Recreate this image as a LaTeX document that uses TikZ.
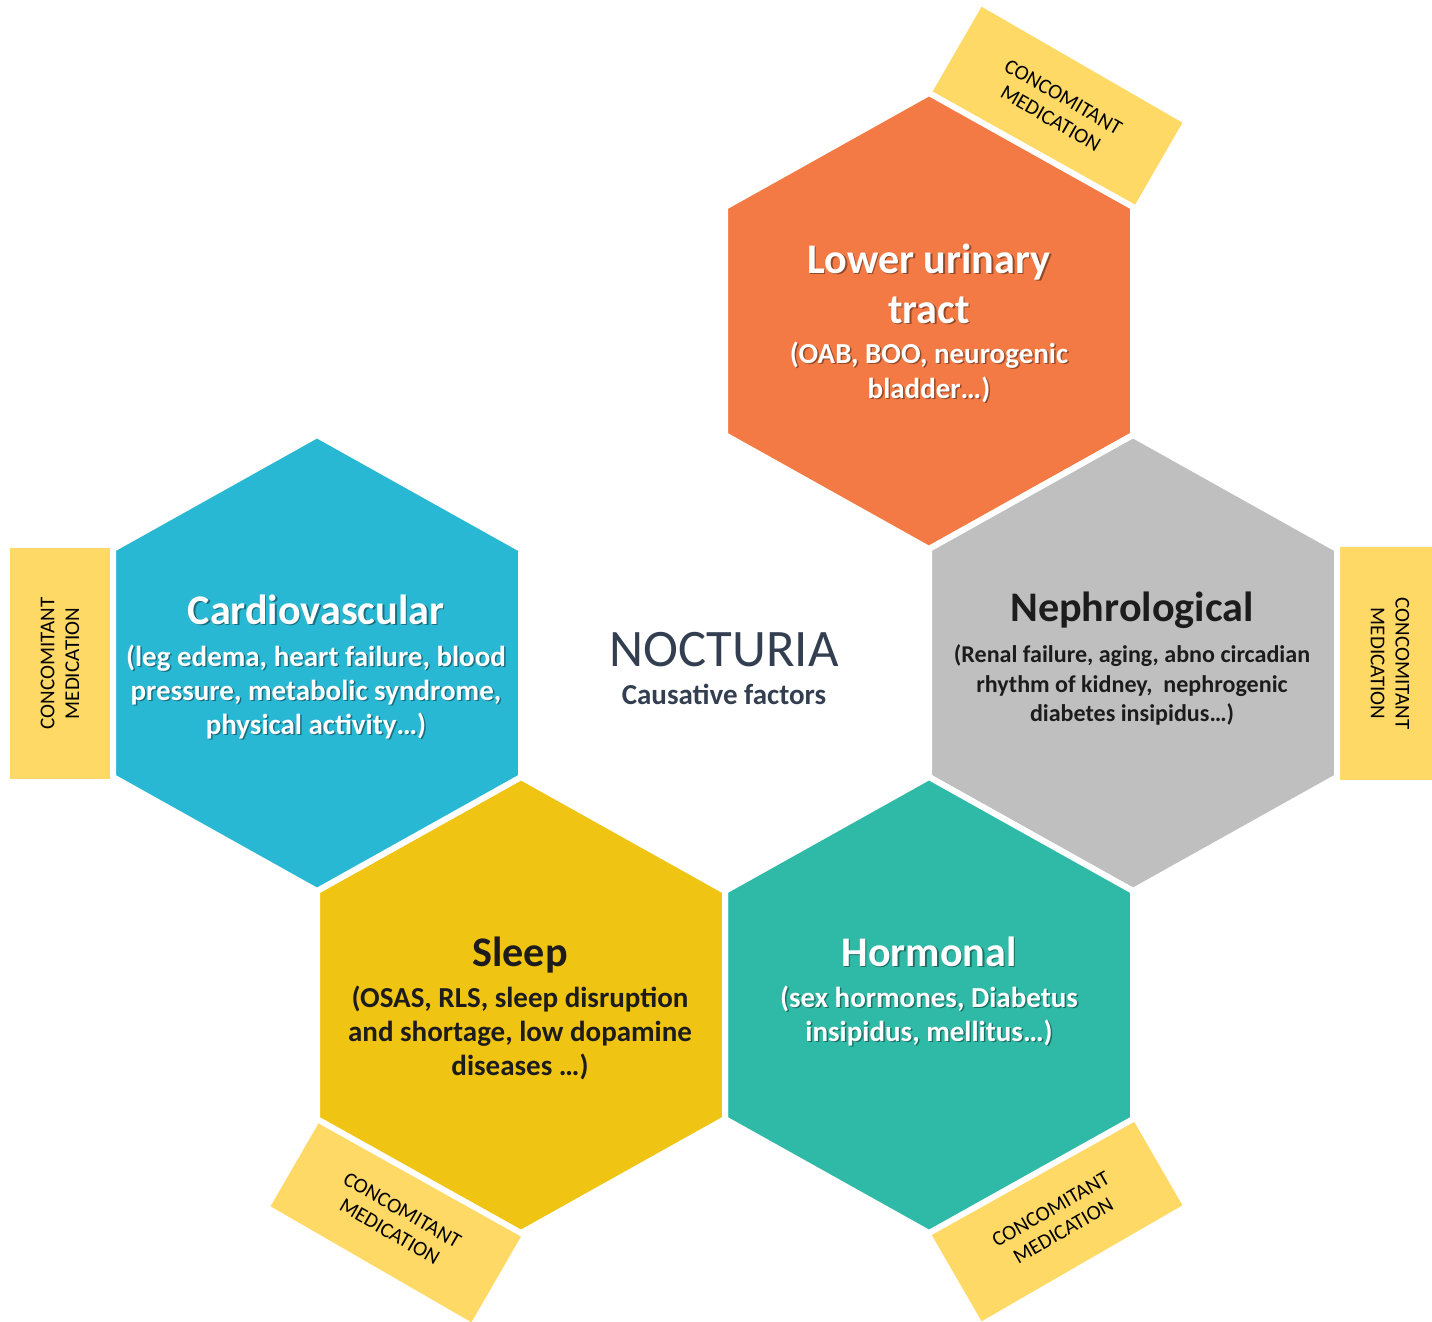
\documentclass[tikz,border=0pt]{standalone}
\usepackage{fontspec}
\setmainfont{Carlito}
\definecolor{cOrange}{HTML}{F37A44}
\definecolor{cGray}{HTML}{BFBFBF}
\definecolor{cBlue}{HTML}{29B8D4}
\definecolor{cYellow}{HTML}{F0C412}
\definecolor{cTeal}{HTML}{2EBAA6}
\definecolor{cMed}{HTML}{FFD966}
\definecolor{cDark}{HTML}{1C1C1C}
\definecolor{cNavy}{HTML}{333F50}
\tikzset{
  hexfill/.style={draw=white, line width=0.12cm, line join=miter},
  medbox/.style={fill=cMed, minimum width=4.64cm, minimum height=2cm, inner sep=0pt,
     align=center, font=\fontsize{12}{14.2}\selectfont, text=black},
  medtext/.style={inner sep=0pt, align=center, font=\fontsize{12}{14.2}\selectfont, text=black},
  ttl/.style={anchor=base, inner sep=0pt, font=\fontsize{24}{28}\selectfont\bfseries},
  sub/.style={anchor=base, inner sep=0pt, font=\fontsize{16.5}{20}\selectfont\bfseries},
  subsm/.style={anchor=base, inner sep=0pt, font=\fontsize{13.7}{17}\selectfont\bfseries},
}
% white text with a drop shadow drawn inside the same node
\newcommand{\shadowed}[2]{\leavevmode\rlap{\kern0.85pt\raisebox{-1.1pt}{\textcolor{#1}{#2}}}#2}
\newcommand{\wline}[6]{%
  \node[#4, text=white] (#1) at (#2, #3) {\shadowed{#6!60!black}{#5}};}
\newcommand{\dline}[5]{%
  \node[#4, text=cDark] (#1) at (#2, #3) {#5};}
\newcommand{\hexagon}[4]{%
  \path[hexfill, fill=#4] (#2-204,#3-114) -- (#2,#3-228) -- (#2+204,#3-114)
     -- (#2+204,#3+114) -- (#2,#3+228) -- (#2-204,#3+114) -- cycle;
  \coordinate (#1) at (#2,#3);}
\begin{document}
\begin{tikzpicture}[x=0.02cm, y=-0.02cm]
\useasboundingbox (0,0) rectangle (1432,1321);

% concomitant medication boxes (behind hexagons)
\node[medbox, rotate=-30] (cmTR) at (1057,108) {CONCOMITANT\\MEDICATION};
\node[medbox, rotate=90] (cmL) at (60,663.5) {CONCOMITANT\\MEDICATION};
\fill[cMed] (1340,547) rectangle (1432,780);
\node[medtext, rotate=-90] (cmR) at (1390,663.5) {CONCOMITANT\\MEDICATION};
\node[medbox, rotate=-30] (cmBL) at (396,1221) {CONCOMITANT\\MEDICATION};
\node[medbox, rotate=30] (cmBR) at (1057,1220) {CONCOMITANT\\MEDICATION};

% hexagons
\hexagon{hUrin}{929}{321}{cOrange}
\hexagon{hNeph}{1133}{663}{cGray}
\hexagon{hHorm}{929}{1005}{cTeal}
\hexagon{hSleep}{521}{1005}{cYellow}
\hexagon{hCard}{317}{663}{cBlue}

% Lower urinary tract
\wline{u1}{929}{273}{ttl}{Lower urinary}{cOrange}
\wline{u2}{929}{323}{ttl}{tract}{cOrange}
\wline{u3}{929}{363}{sub}{(OAB, BOO, neurogenic}{cOrange}
\wline{u4}{929}{398}{sub}{bladder…)}{cOrange}

% Cardiovascular
\wline{c1}{316}{624}{ttl}{Cardiovascular}{cBlue}
\wline{c2}{316}{666}{sub}{(leg edema, heart failure, blood}{cBlue}
\wline{c3}{316}{700}{sub}{pressure, metabolic syndrome,}{cBlue}
\wline{c4}{316}{734}{sub}{physical activity…)}{cBlue}

% Nephrological
\dline{n1}{1132}{621}{ttl}{Nephrological}
\dline{n2}{1132}{662}{subsm}{(Renal failure, aging, abno circadian}
\dline{n3}{1132}{692}{subsm}{rhythm of kidney,\ \ nephrogenic}
\dline{n4}{1132}{721}{subsm}{diabetes insipidus…)}

% Sleep
\dline{s1}{520}{966}{ttl}{Sleep}
\dline{s2}{520}{1007}{sub}{(OSAS, RLS, sleep disruption}
\dline{s3}{520}{1041}{sub}{and shortage, low dopamine}
\dline{s4}{520}{1075}{sub}{diseases …)}

% Hormonal
\wline{h1}{929}{966}{ttl}{Hormonal}{cTeal}
\wline{h2}{929}{1007}{sub}{(sex hormones, Diabetus}{cTeal}
\wline{h3}{929}{1041}{sub}{insipidus, mellitus…)}{cTeal}

% centre
\node[anchor=base, inner sep=0pt, text=cNavy, font=\fontsize{30}{36}\selectfont] (noct) at (724,666) {NOCTURIA};
\node[anchor=base, inner sep=0pt, text=cNavy, font=\fontsize{16.5}{20}\selectfont\bfseries] (caus) at (724,704) {Causative factors};
\end{tikzpicture}
\end{document}
